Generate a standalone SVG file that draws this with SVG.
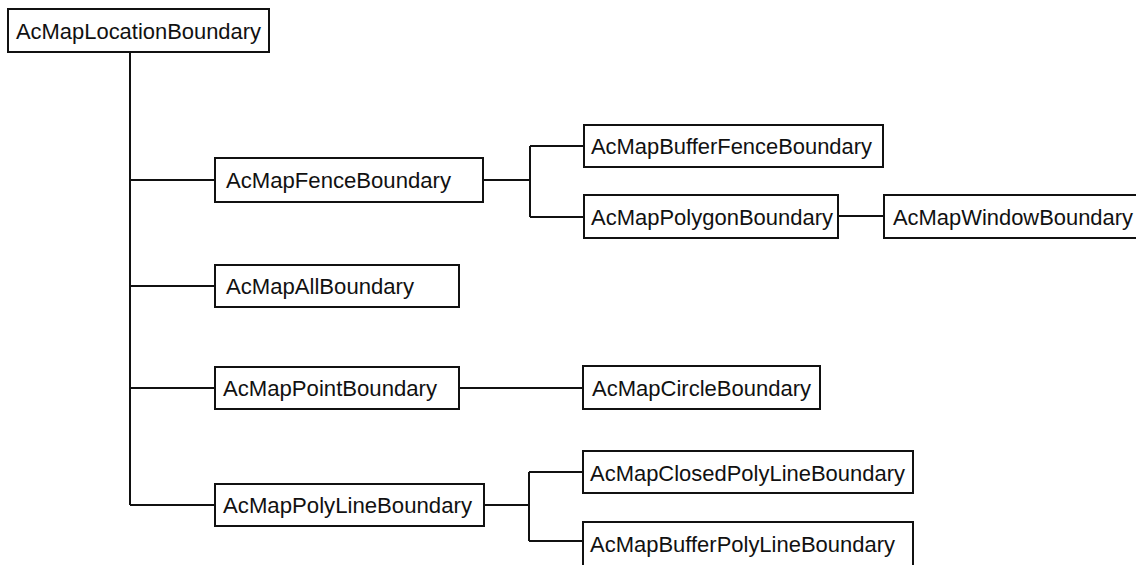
<svg xmlns="http://www.w3.org/2000/svg" width="1136" height="565" viewBox="0 0 1136 565">
<style>
rect{fill:#fff;stroke:#111;stroke-width:2}
text{font-family:"Liberation Sans",Arial,sans-serif;font-size:22px;fill:#111}
.c path{fill:none;stroke:#111;stroke-width:2}
</style>
<rect x="0" y="0" width="1136" height="565" style="stroke:none"/>
<g class="c" id="connectors">
<path d="M130 52V505"/>
<path d="M130 180H215"/>
<path d="M130 286H215"/>
<path d="M130 388H215"/>
<path d="M130 505H215"/>
<path d="M483 180H530"/>
<path d="M530 146V217"/>
<path d="M530 146H584"/>
<path d="M530 217H584"/>
<path d="M838 216H884"/>
<path d="M459 388H583"/>
<path d="M484 505H529"/>
<path d="M529 472V541"/>
<path d="M529 472H583"/>
<path d="M529 541H583"/>
</g>
<g id="n-root"><rect x="8" y="9" width="261" height="43"/><text x="16" y="38.5" textLength="245" lengthAdjust="spacingAndGlyphs">AcMapLocationBoundary</text></g>
<g id="n-fence"><rect x="215" y="158" width="268" height="44"/><text x="226" y="188" textLength="225" lengthAdjust="spacingAndGlyphs">AcMapFenceBoundary</text></g>
<g id="n-all"><rect x="215" y="265" width="244" height="42"/><text x="226" y="294" textLength="188" lengthAdjust="spacingAndGlyphs">AcMapAllBoundary</text></g>
<g id="n-point"><rect x="215" y="367" width="244" height="42"/><text x="223" y="396" textLength="214" lengthAdjust="spacingAndGlyphs">AcMapPointBoundary</text></g>
<g id="n-polyline"><rect x="215" y="484" width="269" height="42"/><text x="223" y="513" textLength="249" lengthAdjust="spacingAndGlyphs">AcMapPolyLineBoundary</text></g>
<g id="n-bufferfence"><rect x="584" y="125" width="299" height="42"/><text x="591" y="154" textLength="281" lengthAdjust="spacingAndGlyphs">AcMapBufferFenceBoundary</text></g>
<g id="n-polygon"><rect x="584" y="195" width="254" height="43"/><text x="591" y="224.5" textLength="242" lengthAdjust="spacingAndGlyphs">AcMapPolygonBoundary</text></g>
<g id="n-window"><rect x="884" y="195" width="262" height="43"/><text x="893" y="224.5" textLength="240" lengthAdjust="spacingAndGlyphs">AcMapWindowBoundary</text></g>
<g id="n-circle"><rect x="583" y="366" width="237" height="43"/><text x="592" y="395.5" textLength="219" lengthAdjust="spacingAndGlyphs">AcMapCircleBoundary</text></g>
<g id="n-closedpolyline"><rect x="583" y="451" width="330" height="42"/><text x="590" y="480.5" textLength="315" lengthAdjust="spacingAndGlyphs">AcMapClosedPolyLineBoundary</text></g>
<g id="n-bufferpolyline"><rect x="583" y="522" width="330" height="48"/><text x="590" y="552" textLength="305" lengthAdjust="spacingAndGlyphs">AcMapBufferPolyLineBoundary</text></g>
</svg>
